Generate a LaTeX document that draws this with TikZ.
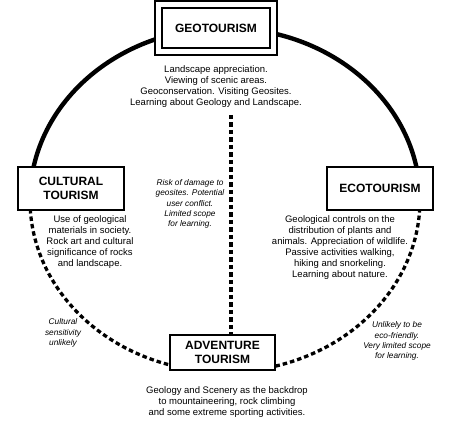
\documentclass[tikz,border=0pt]{standalone}
\usepackage{fontspec}
\setmainfont{Liberation Sans}
\begin{document}
\begin{tikzpicture}[x=1pt,y=1pt,
  box/.style={draw=black,line width=1.2pt,fill=white,align=center,inner sep=0pt,
    font=\fontsize{12}{14.5}\selectfont\bfseries},
  body/.style={align=center,inner sep=0pt,font=\fontsize{9.5}{11}\selectfont},
  note/.style={align=center,inner sep=0pt,font=\fontsize{8.3}{10.2}\selectfont\itshape},
  solidarc/.style={line width=4.4pt},
  dasharc/.style={line width=3.3pt,dash pattern=on 4.5pt off 3pt}]
\useasboundingbox (0,0) rectangle (453,425);
% ellipse arcs
\draw[solidarc,shift={(225,225)}] (180:195pt and 172pt) arc[start angle=180,end angle=0,x radius=195pt,y radius=172pt];
\draw[dasharc,shift={(225,225)}] (183:195pt and 172pt) arc[start angle=183,end angle=254,x radius=195pt,y radius=172pt];
\draw[dasharc,shift={(225,225)}] (285:195pt and 172pt) arc[start angle=285,end angle=357,x radius=195pt,y radius=172pt];
% boxes
\node[box,minimum width=122pt,minimum height=54pt] (geo) at (216,397) {};
\node[draw=black,line width=1.2pt,minimum width=108pt,minimum height=40pt,inner sep=0pt] (geoin) at (geo.center) {};
\node[align=center,inner sep=0pt,font=\fontsize{12}{14.5}\selectfont\bfseries] (geot) at (geo.center) {GEOTOURISM};
\node[box,minimum width=106pt,minimum height=43pt] (cult) at (71,236.5) {CULTURAL\\TOURISM};
\node[box,minimum width=106pt,minimum height=43pt] (eco) at (380,236.5) {ECOTOURISM};
\node[box,minimum width=105pt,minimum height=35pt] (adv) at (222.5,72.5) {ADVENTURE\\TOURISM};
% texts
\node[body] (geotxt) at (216,338.5) {Landscape appreciation.\\Viewing of scenic areas.\\Geoconservation. Visiting Geosites.\\Learning about Geology and Landscape.};
\node[body] (culttxt) at (90,182.5) {Use of geological\\materials in society.\\Rock art and cultural\\significance of rocks\\and landscape.};
\node[body] (ecotxt) at (340,177.5) {Geological controls on the\\distribution of plants and\\animals. Appreciation of wildlife.\\Passive activities walking,\\hiking and snorkeling.\\Learning about nature.};
\node[body] (advtxt) at (227,23) {Geology and Scenery as the backdrop\\to mountaineering, rock climbing\\and some extreme sporting activities.};
\node[note] (risk) at (190,221) {Risk of damage to\\geosites. Potential\\user conflict.\\Limited scope\\for learning.};
\node[note] (cultnote) at (63,92) {Cultural\\sensitivity\\unlikely};
\node[note] (advnote) at (397,84) {Unlikely to be\\eco-friendly.\\Very limited scope\\for learning.};
% vertical dashed connector
\coordinate (vtop) at (231,310);
\draw[dasharc] (vtop) -- (vtop |- adv.north);
\end{tikzpicture}
\end{document}
